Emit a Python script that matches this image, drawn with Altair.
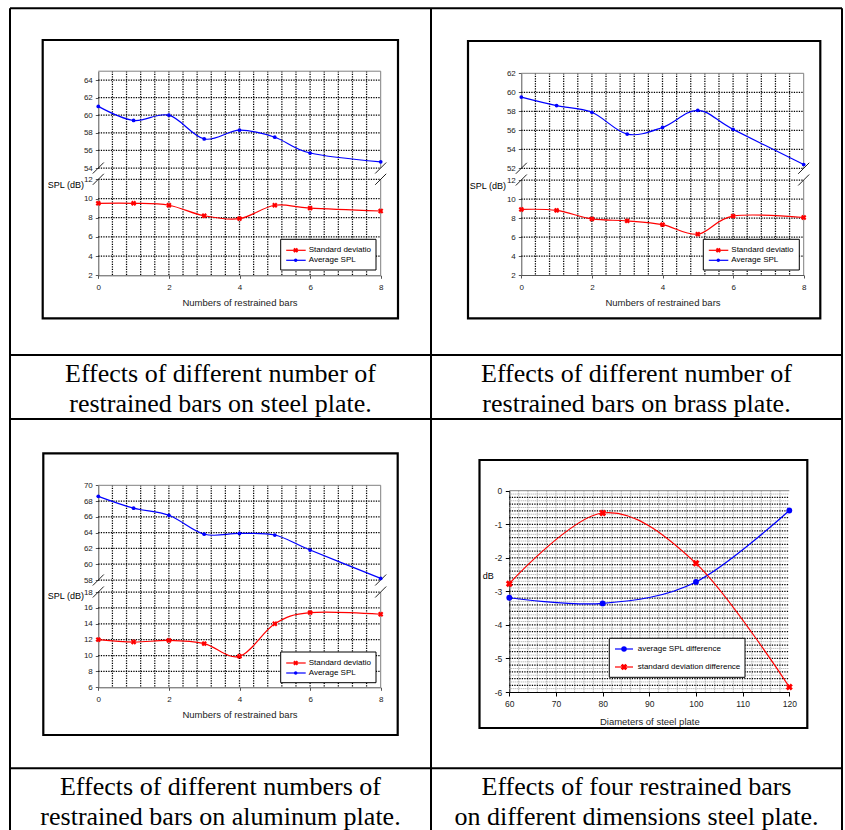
import altair as alt
import pandas as pd

# ---------------- data ----------------
bars = [0, 1, 2, 3, 4, 5, 6, 8]
steel_avg = [61.0, 59.4, 60.0, 57.3, 58.3, 57.5, 55.7, 54.7]
steel_std = [9.5, 9.5, 9.3, 8.2, 7.9, 9.3, 9.0, 8.7]
brass_avg = [59.5, 58.6, 57.9, 55.6, 56.3, 58.1, 56.1, 52.4]
brass_std = [8.9, 8.8, 7.9, 7.7, 7.3, 6.3, 8.2, 8.05]
alu_avg = [68.6, 67.1, 66.2, 63.8, 63.9, 63.7, 61.8, 58.2]
alu_std = [12.0, 11.7, 11.9, 11.5, 9.9, 14.0, 15.4, 15.2]
diameters = [60, 80, 100, 120]
avg_spl_diff = [-3.19, -3.36, -2.72, -0.59]
std_dev_diff = [-2.77, -0.665, -2.165, -5.85]

bar_ticks = [0, 2, 4, 6, 8]
bar_minor = [0.4, 0.8, 1.2, 1.6, 2.0, 2.4, 2.8, 3.2, 3.6, 4.0,
             4.4, 4.8, 5.2, 5.6, 6.0, 6.4, 6.8, 7.2, 7.6]
diam_ticks = [60, 70, 80, 90, 100, 110, 120]
diam_minor = [62 + 2 * i for i in range(29)]
db_ticks = [-6, -5, -4, -3, -2, -1, 0]
db_grid = [round(-0.2 * i, 1) for i in range(1, 30)]
db_fine = [round(-0.1 - 0.2 * i, 1) for i in range(30)]

legend_bars = ["Standard deviatio", "Average SPL"]
legend_diam = ["average SPL difference", "standard deviation difference"]
captions = [
    ["Effects of different number of", "restrained  bars on steel plate."],
    ["Effects of different number of", "restrained  bars on brass plate."],
    ["Effects of different numbers of", "restrained bars on aluminum plate."],
    ["Effects of four restrained bars", "on different dimensions steel plate."],
]

# ---------------- style / layout ----------------
W, H = 845, 830
SANS = "Liberation Sans"
SERIF = "Liberation Serif"
BLUE = "#0000FF"
RED = "#FF0000"
BORDER = "#808080"
AXC = "#555555"
DOT = dict(color="black", strokeWidth=1.25, strokeDash=[1.3, 1.2])


def sc(dom, rng):
    return alt.Scale(domain=dom, range=rng, nice=False, zero=False)


def one():
    return pd.DataFrame({"k": [0]})


def seg(x, y, x2, y2, color="black", w=1.0, dash=None):
    mk = dict(color=color, strokeWidth=w)
    if dash:
        mk["strokeDash"] = dash
    return alt.Chart(one()).mark_rule(**mk).encode(
        x=alt.value(x), y=alt.value(y), x2=alt.value(x2), y2=alt.value(y2))


def label(txt, x, y, size, align="left", font=SANS, color="black", baseline="middle"):
    return alt.Chart(pd.DataFrame({"t": [txt]})).mark_text(
        align=align, baseline=baseline, font=font, fontSize=size, color=color
    ).encode(text="t:N", x=alt.value(x), y=alt.value(y))


def box(x0, y0, x1, y1, stroke="black", w=1.0, filled=True):
    if filled:
        mk = alt.Chart(one()).mark_rect(fill="white", stroke=stroke, strokeWidth=w)
    else:
        mk = alt.Chart(one()).mark_rect(filled=False, color=stroke, strokeWidth=w)
    return mk.encode(x=alt.value(x0), y=alt.value(y0), x2=alt.value(x1), y2=alt.value(y1))


def sym(x, y, shape, color, size, angle=0):
    return alt.Chart(one()).mark_point(
        shape=shape, filled=True, color=color, size=size, angle=angle, opacity=1
    ).encode(x=alt.value(x), y=alt.value(y))


def yaxis(vals, x0, tick=3, pad=3, size=8, color=AXC, expr=None):
    kw = dict(values=vals, orient="left", offset=-x0, grid=False, title=None,
              domainColor=color, tickColor=color, tickSize=tick, labelPadding=pad,
              labelFont=SANS, labelFontSize=size, labelColor="#222222",
              labelOverlap=False, labelFlush=False)
    if expr:
        kw["labelExpr"] = expr
    return alt.Axis(**kw)


def xaxis(vals, yb, title, tick=3, pad=5, size=8, tsize=9.5, tpad=6.5, color=AXC):
    return alt.Axis(values=vals, orient="bottom", offset=yb - H, grid=False,
                    title=title, titleFont=SANS, titleFontSize=tsize,
                    titleFontWeight="normal", titleColor="#222222", titlePadding=tpad,
                    domainColor=color, tickColor=color, tickSize=tick, labelPadding=pad,
                    labelFont=SANS, labelFontSize=size, labelColor="#222222",
                    labelOverlap=False, labelFlush=False)


def broken_panel(avg, std, g):
    x0, x1 = g["x0"], g["x1"]
    xs = sc([0, 8], [x0, x1])
    su = sc(g["up_dom"], [g["up_b"], g["up_t"]])
    sl = sc(g["lo_dom"], [g["lo_b"], g["lo_t"]])
    df = pd.DataFrame({"bars": bars, "avg": avg, "std": std})
    L = []
    fx0, fy0, fx1, fy1 = g["frame"]
    L.append(box(fx0, fy0, fx1, fy1, "black", 2.2, filled=False))
    L.append(alt.Chart(pd.DataFrame({"v": bar_minor})).mark_rule(**DOT).encode(
        x=alt.X("v:Q", scale=xs, axis=None), y=alt.value(g["up_t"]), y2=alt.value(g["lo_b"])))
    L.append(alt.Chart(pd.DataFrame({"v": g["up_grid"]})).mark_rule(**DOT).encode(
        y=alt.Y("v:Q", scale=su, axis=None), x=alt.value(x0), x2=alt.value(x1)))
    L.append(alt.Chart(pd.DataFrame({"v": g["lo_grid"]})).mark_rule(**DOT).encode(
        y=alt.Y("v:Q", scale=sl, axis=None), x=alt.value(x0), x2=alt.value(x1)))
    L.append(seg(x0, g["up_t"], x1, g["up_t"], BORDER, 1))
    L.append(seg(x1, g["up_t"], x1, g["up_b"], BORDER, 1))
    L.append(seg(x1, g["lo_t"], x1, g["lo_b"], BORDER, 1))
    for cx in (x0, x1):
        for cy in (g["up_b"], g["lo_t"]):
            L.append(seg(cx - 5.5, cy + 5.5, cx + 5.5, cy - 5.5, "#222222", 1))
    L.append(alt.Chart(df).mark_line(interpolate="cardinal", color=BLUE, strokeWidth=1.2).encode(
        x=alt.X("bars:Q", scale=xs, axis=None),
        y=alt.Y("avg:Q", scale=su, axis=yaxis(g["up_ticks"], x0))))
    L.append(alt.Chart(df).mark_line(interpolate="cardinal", color=RED, strokeWidth=1.2).encode(
        x=alt.X("bars:Q", scale=xs,
                axis=xaxis(bar_ticks, g["lo_b"], "Numbers of restrained bars")),
        y=alt.Y("std:Q", scale=sl, axis=yaxis(g["lo_ticks"], x0))))
    L.append(alt.Chart(df).mark_point(shape="circle", filled=True, color=BLUE, size=14, opacity=1).encode(
        x=alt.X("bars:Q", scale=xs, axis=None), y=alt.Y("avg:Q", scale=su, axis=None)))
    L.append(alt.Chart(df).mark_point(shape="cross", angle=45, filled=True, color=RED, size=30, opacity=1).encode(
        x=alt.X("bars:Q", scale=xs, axis=None), y=alt.Y("std:Q", scale=sl, axis=None)))
    lx0, ly0, lx1, ly1 = g["legend"]
    L.append(box(lx0, ly0, lx1, ly1, "black", 1))
    e1, e2 = ly0 + 11, ly0 + 21
    L.append(seg(lx0 + 5.5, e1, lx0 + 25, e1, RED, 1.2))
    L.append(sym(lx0 + 15, e1, "cross", RED, 26, 45))
    L.append(label(legend_bars[0], lx0 + 28, e1, 8))
    L.append(seg(lx0 + 5.5, e2, lx0 + 25, e2, BLUE, 1.2))
    L.append(sym(lx0 + 15, e2, "circle", BLUE, 12))
    L.append(label(legend_bars[1], lx0 + 28, e2, 8))
    sx, sy = g["spl"]
    L.append(label("SPL (dB)", sx, sy, 9, align="right"))
    return L


def diam_panel():
    x0, x1, yb, yt = 509.3, 789.3, 692.0, 490.7
    xs = sc([60, 120], [x0, x1])
    ys = sc([-6, 0], [yb, yt])
    df = pd.DataFrame({"d": diameters, "avg": avg_spl_diff, "std": std_dev_diff})
    L = [box(479.5, 460, 807.3, 728, "black", 2.2, filled=False)]
    L.append(alt.Chart(pd.DataFrame({"v": diam_minor})).mark_rule(
        color="#9a9a9a", strokeWidth=1, strokeDash=[1, 1]).encode(
        x=alt.X("v:Q", scale=xs, axis=None), y=alt.value(yt), y2=alt.value(yb)))
    L.append(alt.Chart(pd.DataFrame({"v": db_fine})).mark_rule(
        color="#a0a0a0", strokeWidth=1, strokeDash=[1, 1]).encode(
        y=alt.Y("v:Q", scale=ys, axis=None), x=alt.value(x0), x2=alt.value(x1)))
    L.append(alt.Chart(pd.DataFrame({"v": db_grid})).mark_rule(**DOT).encode(
        y=alt.Y("v:Q", scale=ys, axis=None), x=alt.value(x0), x2=alt.value(x1)))
    L.append(seg(x0, yt, x1, yt, BORDER, 1))
    L.append(alt.Chart(df).mark_line(interpolate="cardinal", color=BLUE, strokeWidth=1.2).encode(
        x=alt.X("d:Q", scale=xs, axis=None),
        y=alt.Y("avg:Q", scale=ys,
                axis=yaxis(db_ticks, x0, tick=4, pad=3.5, size=8.5, color="black",
                           expr="'' + datum.value"))))
    L.append(alt.Chart(df).mark_line(interpolate="cardinal", color=RED, strokeWidth=1.2).encode(
        x=alt.X("d:Q", scale=xs,
                axis=xaxis(diam_ticks, yb, "Diameters of steel plate", tick=4, pad=3.5,
                           size=8.5, tsize=9.5, tpad=8, color="black")),
        y=alt.Y("std:Q", scale=ys, axis=None)))
    L.append(alt.Chart(df).mark_point(shape="circle", filled=True, color=BLUE, size=34, opacity=1).encode(
        x=alt.X("d:Q", scale=xs, axis=None), y=alt.Y("avg:Q", scale=ys, axis=None)))
    L.append(alt.Chart(df).mark_point(shape="cross", angle=45, filled=True, color=RED, size=50, opacity=1).encode(
        x=alt.X("d:Q", scale=xs, axis=None), y=alt.Y("std:Q", scale=ys, axis=None)))
    lx0, ly0, lx1, ly1 = 609.3, 638.3, 745.0, 677.3
    L.append(box(lx0, ly0, lx1, ly1, "black", 1))
    e1, e2 = 649.0, 667.0
    L.append(seg(615, e1, 633, e1, BLUE, 1.2))
    L.append(sym(624, e1, "circle", BLUE, 30))
    L.append(label(legend_diam[0], 637.7, e1, 8))
    L.append(seg(615, e2, 633, e2, RED, 1.2))
    L.append(sym(624, e2, "cross", RED, 44, 45))
    L.append(label(legend_diam[1], 637.7, e2, 8))
    L.append(label("dB", 482.7, 575.7, 9))
    return L


g1 = dict(x0=98.3, x1=380.7, up_dom=[54, 65], up_b=168.0, up_t=71.2,
          lo_dom=[2, 12], lo_b=275.3, lo_t=179.3,
          up_ticks=[54, 56, 58, 60, 62, 64], lo_ticks=[2, 4, 6, 8, 10, 12],
          up_grid=[54, 56, 58, 60, 62, 64], lo_grid=[4, 6, 8, 10, 12],
          frame=(42.7, 40.0, 398.0, 318.3), legend=(280.7, 239.3, 376.0, 270.0),
          spl=(84.0, 185.0))
g2 = dict(x0=521.3, x1=803.7, up_dom=[52, 62], up_b=168.3, up_t=73.3,
          lo_dom=[2, 12], lo_b=275.0, lo_t=180.0,
          up_ticks=[52, 54, 56, 58, 60, 62], lo_ticks=[2, 4, 6, 8, 10, 12],
          up_grid=[52, 54, 56, 58, 60], lo_grid=[4, 6, 8, 10, 12],
          frame=(468.0, 41.0, 820.3, 318.3), legend=(703.3, 239.3, 799.3, 270.0),
          spl=(506.0, 185.7))
g3 = dict(x0=98.3, x1=380.7, up_dom=[58, 70], up_b=580.0, up_t=485.3,
          lo_dom=[6, 18], lo_b=687.3, lo_t=592.0,
          up_ticks=[58, 60, 62, 64, 66, 68, 70], lo_ticks=[6, 8, 10, 12, 14, 16, 18],
          up_grid=[58, 60, 62, 64, 66, 68], lo_grid=[8, 10, 12, 14, 16, 18],
          frame=(43.3, 453.3, 397.7, 735.0), legend=(280.7, 652.0, 376.0, 682.7),
          spl=(84.0, 595.7))

layers = []
# table lines
TL, TR, TT, MID = 10.0, 842.0, 8.3, 431.0
for xv in (TL, MID, TR):
    layers.append(seg(xv, TT, xv, H, "black", 2))
for yv in (TT, 355.0, 419.0, 768.3):
    layers.append(seg(TL, yv, TR, yv, "black", 2))

layers += broken_panel(steel_avg, steel_std, g1)
layers += broken_panel(brass_avg, brass_std, g2)
layers += broken_panel(alu_avg, alu_std, g3)
layers += diam_panel()

# captions
cap_pos = [(220.5, 355.0), (636.5, 355.0), (220.5, 768.3), (636.5, 768.3)]
for (cx, top), lines in zip(cap_pos, captions):
    layers.append(label(lines[0], cx, top + 27, 26, align="center", font=SERIF, baseline="alphabetic"))
    layers.append(label(lines[1], cx, top + 57, 26, align="center", font=SERIF, baseline="alphabetic"))

chart = alt.layer(*layers).resolve_scale(x="independent", y="independent").properties(
    width=W, height=H, padding=0, autosize="none", background="white"
).configure_view(stroke=None)

chart.save("out.html", embed_options={"renderer": "svg", "actions": False})
